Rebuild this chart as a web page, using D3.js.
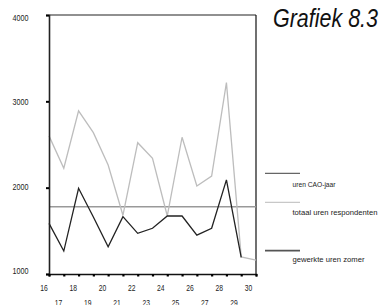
<!DOCTYPE html>
<html><head><meta charset="utf-8">
<script src="https://cdn.jsdelivr.net/npm/d3@7"></script>
<style>
html,body{margin:0;padding:0;background:#fff;}
svg{display:block;}
text{font-family:"Liberation Sans Narrow","Liberation Sans",Arial,sans-serif;}
</style></head>
<body><svg id="c" width="386" height="305"></svg>
<script>
const years = [16,17,18,19,20,21,22,23,24,25,26,27,28,29,30];
const totaalUren = [2600,2225,2890,2637,2263,1680,2521,2340,1672,2584,2020,2135,3217,1198,1162];
const gewerkteUren = [1587,1266,1993,1660,1316,1664,1471,1530,1672,1672,1450,1530,2090,1193,null];
const caoUren = 1780;
const yTicks = [1000,2000,3000,4000];
const legendLabels = ["uren CAO-jaar","totaal uren respondenten","gewerkte uren zomer"];
const title = "Grafiek 8.3";

const svg = d3.select("#c");
const x = d3.scaleLinear().domain([16,30]).range([49,256]);
const y = d3.scaleLinear().domain([1000,4000]).range([274,15]);
// label placement scales (labels in the original are slightly offset from ticks)
const xl = d3.scaleLinear().domain([16,30]).range([44,248.5]);
const yl = d3.scaleLinear().domain([1000,4000]).range([271.3,18]);

// frame top & right
svg.append("line").attr("x1",49).attr("x2",256).attr("y1",y(4000)).attr("y2",y(4000)).attr("stroke","#222").attr("stroke-width",1.2);
svg.append("line").attr("x1",256).attr("x2",256).attr("y1",y(4000)).attr("y2",y(1000)).attr("stroke","#111").attr("stroke-width",1.2);

// CAO horizontal
svg.append("line").attr("x1",x(16)).attr("x2",x(30)).attr("y1",y(caoUren)).attr("y2",y(caoUren))
  .attr("stroke","#999").attr("stroke-width",1.5);

const line = d3.line().defined(d=>d[1]!=null).x(d=>x(d[0])).y(d=>y(d[1]));
svg.append("path").datum(years.map((yr,i)=>[yr,totaalUren[i]])).attr("d",line)
  .attr("fill","none").attr("stroke","#bdbdbd").attr("stroke-width",1.3);
svg.append("path").datum(years.map((yr,i)=>[yr,gewerkteUren[i]])).attr("d",line)
  .attr("fill","none").attr("stroke","#222").attr("stroke-width",1.3);

// axes
const yAxis = svg.append("g").attr("transform","translate(49,0)")
  .call(d3.axisLeft(y).tickValues(yTicks).tickSize(3).tickFormat(""));
yAxis.select(".domain").attr("stroke","#222").attr("stroke-width",1.6);
yAxis.selectAll(".tick line").attr("stroke","#000").attr("stroke-width",2);
const xAxis = svg.append("g").attr("transform","translate(0,274)")
  .call(d3.axisBottom(x).tickValues(years).tickSize(2.5).tickFormat(""));
xAxis.select(".domain").attr("stroke","#111").attr("stroke-width",1.6);
xAxis.selectAll(".tick line").attr("stroke","#000").attr("stroke-width",2.2);

// y labels
svg.selectAll("text.yl").data(yTicks).enter().append("text").attr("class","yl")
  .attr("x",28.5).attr("y",d=>yl(d)).attr("dy","0.35em").attr("text-anchor","end")
  .attr("font-size",8.6).attr("fill","#222")
  .attr("textLength",16).attr("lengthAdjust","spacingAndGlyphs").text(d=>d);
// x labels (even top row, odd second row)
svg.selectAll("text.xl").data(years).enter().append("text").attr("class","xl")
  .attr("x",d=>xl(d)).attr("y",d=>d%2===0?287.7:302.3).attr("dy","0.35em").attr("text-anchor","middle")
  .attr("font-size",9.5).attr("fill","#222")
  .attr("textLength",7.5).attr("lengthAdjust","spacingAndGlyphs").text(d=>d);

// legend
const legY = [173.3,202.3,250.7];
const legTxtY = [184,211.7,259.3];
const legCol = ["#666","#c8c8c8","#555"];
const legW = [1.3,1.3,1.8];
const legLen = [43,85,72];
legendLabels.forEach((t,i)=>{
  svg.append("line").attr("x1",265).attr("x2",300).attr("y1",legY[i]).attr("y2",legY[i])
    .attr("stroke",legCol[i]).attr("stroke-width",legW[i]);
  svg.append("text").attr("x",292.5).attr("y",legTxtY[i]).attr("dy","0.35em")
    .attr("font-size",8).attr("fill","#222")
    .attr("textLength",legLen[i]).attr("lengthAdjust","spacingAndGlyphs").text(t);
});

// title
svg.append("text").attr("x",273).attr("y",27.3).attr("font-size",26.5).attr("font-style","italic")
  .attr("fill","#111").attr("textLength",105).attr("lengthAdjust","spacingAndGlyphs").text(title);
</script></body></html>
